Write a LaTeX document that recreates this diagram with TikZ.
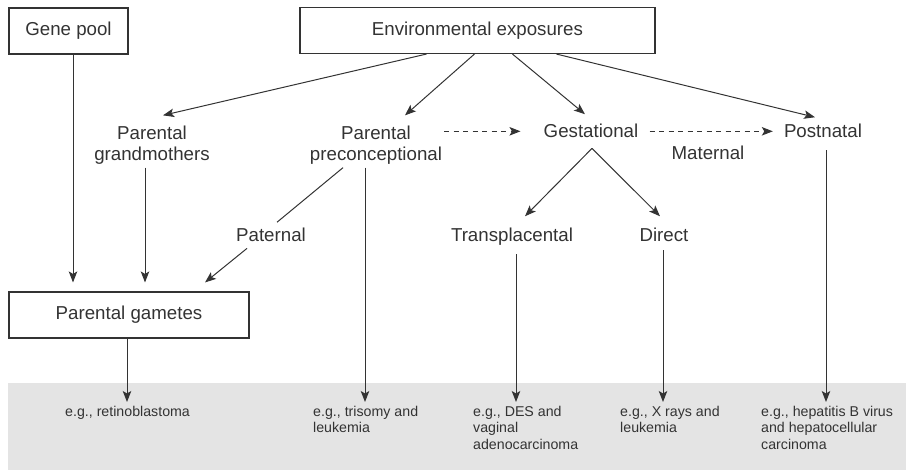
\documentclass[tikz,border=0pt]{standalone}
\usepackage{fontspec}
\setmainfont{Liberation Sans}
\usepackage{xcolor}
\usetikzlibrary{arrows.meta,positioning,calc}
\definecolor{ink}{HTML}{333333}
\definecolor{band}{HTML}{E4E4E4}

\begin{document}
\begin{tikzpicture}[x=1pt,y=-1pt,
  every node/.style={text=ink,inner sep=0pt,font=\fontsize{18.7}{21.5}\selectfont},
  box/.style={draw=ink,line width=1.1pt,minimum height=46pt},
  lbl/.style={align=center},
  ex/.style={align=left,anchor=north west,font=\fontsize{14.2}{16.5}\selectfont},
  arr/.style={draw=ink,line width=1pt,-{Stealth[length=11pt,width=8.5pt,inset=2.5pt]}},
  dasharr/.style={arr,dash pattern=on 5pt off 4.5pt}]
  \useasboundingbox (0,0) rectangle (906,470);
  \fill[band] (8,383) rectangle (906,470);
  % boxes
  \node[box,minimum width=119pt] (gene) at (68.5,31) {Gene pool};
  \node[box,minimum width=355pt] (env) at (477.5,30.5) {Environmental exposures};
  \node[box,minimum width=240pt] (gam) at (129,315) {Parental gametes};
  % exposure windows
  \node[lbl] (gm) at (152,145) {Parental\\grandmothers};
  \node[lbl] (pre) at (376,145) {Parental\\preconceptional};
  \node[anchor=base] (gest) at (591,138) {Gestational};
  \node[anchor=base] (post) at (823,138) {Postnatal};
  \node[anchor=base] (mat) at (708,160) {Maternal};
  \node[anchor=base] (pat) at (271,242) {Paternal};
  \node[anchor=base] (tp) at (512,242) {Transplacental};
  \node[anchor=base] (dir) at (664,242) {Direct};
  % examples
  \node[ex] (ex1) at (65,406) {e.g., retinoblastoma};
  \node[ex] (ex2) at (313,406) {e.g., trisomy and\\leukemia};
  \node[ex] (ex3) at (473,406) {e.g., DES and\\vaginal\\adenocarcinoma};
  \node[ex] (ex4) at (620,406) {e.g., X rays and\\leukemia};
  \node[ex] (ex5) at (761,406) {e.g., hepatitis B virus\\and hepatocellular\\carcinoma};
  % connectors
  \draw[arr] ($(env.south west)+(127,0)$) -- ($(gm.north)+(11,-10)$);
  \draw[arr] ($(env.south west)+(175,0)$) -- ($(pre.north)+(29,-10)$);
  \draw[arr] ($(env.south west)+(213,0)$) -- ($(gest.north)+(-6,-10)$);
  \draw[arr] ($(env.south west)+(257,0)$) -- ($(post.north)+(-8,-7)$);
  \draw[dasharr,shorten >=23pt] ($(pre.east |- gest.west)+(2,0)$) -- (gest.west);
  \draw[dasharr,shorten <=11pt,shorten >=11pt] (gest.east) -- (post.west);
  \draw[arr] ($(gest.south)+(1,10)$) -- ($(tp.north)+(13,-12)$);
  \draw[arr] ($(gest.south)+(1,10)$) -- ($(dir.north)+(-4,-12)$);
  \draw[draw=ink,line width=1pt] ($(pre.south)+(-33,3)$) -- ($(pat.north)+(6,-6)$);
  \draw[arr] ($(pat.south)+(-24,6)$) -- ($(gam.north)+(76,-9)$);
  \draw[arr,shorten >=9pt] ($(gene.south)+(4.5,0)$) coordinate (g1) -- (g1 |- gam.north);
  \draw[arr,shorten >=9pt] ($(gm.south)+(-7,3)$) coordinate (g2) -- (g2 |- gam.north);
  \draw[arr,shorten >=4pt] ($(gam.south)+(-2,0)$) coordinate (g3) -- (g3 |- ex1.north);
  \draw[arr,shorten >=4pt] ($(pre.south)+(-11,3)$) coordinate (g4) -- (g4 |- ex2.north);
  \draw[arr,shorten >=4pt] ($(tp.south)+(4,8)$) coordinate (g5) -- (g5 |- ex3.north);
  \draw[arr,shorten >=4pt] ($(dir.south)+(-1,8)$) coordinate (g6) -- (g6 |- ex4.north);
  \draw[arr,shorten >=4pt] ($(post.south)+(3,12)$) coordinate (g7) -- (g7 |- ex5.north);
\end{tikzpicture}
\end{document}
